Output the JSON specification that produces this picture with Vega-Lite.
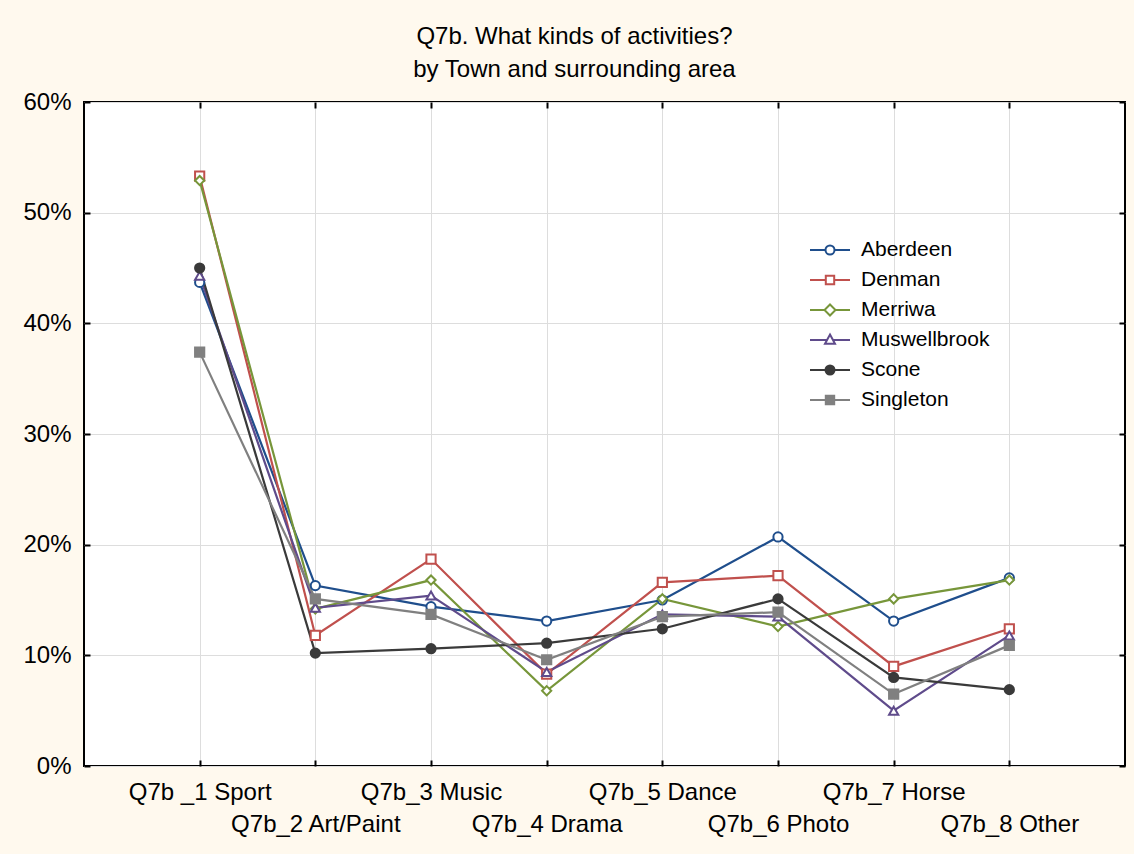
{
  "$schema": "https://vega.github.io/schema/vega-lite/v6.json",
  "width": 1041,
  "height": 664,
  "autosize": {"type": "none"},
  "padding": {"left": 84, "top": 102, "right": 9, "bottom": 88},
  "background": "#FFF9EE",
  "config": {
    "font": "Liberation Sans",
    "view": {"fill": "white", "stroke": "#000000", "strokeWidth": 2},
    "axis": {
      "domain": false,
      "tickColor": "#000000",
      "tickWidth": 2,
      "tickSize": 6,
      "offset": -6,
      "gridColor": "#DDDDDD",
      "gridWidth": 1,
      "labelColor": "#000000",
      "labelFont": "Liberation Sans",
      "labelFontSize": 24,
      "title": null
    }
  },
  "title": {
    "text": ["Q7b. What kinds of activities?", "by Town and surrounding area"],
    "fontSize": 24,
    "fontWeight": "normal",
    "lineHeight": 33,
    "frame": "bounds",
    "anchor": "middle",
    "offset": 8,
    "color": "#000000"
  },
  "data": {
    "values": [
      {"town": "Aberdeen", "item": "Q7b _1 Sport", "pct": 43.7},
      {"town": "Aberdeen", "item": "Q7b_2 Art/Paint", "pct": 16.3},
      {"town": "Aberdeen", "item": "Q7b_3 Music", "pct": 14.4},
      {"town": "Aberdeen", "item": "Q7b_4 Drama", "pct": 13.1},
      {"town": "Aberdeen", "item": "Q7b_5 Dance", "pct": 15.0},
      {"town": "Aberdeen", "item": "Q7b_6 Photo", "pct": 20.7},
      {"town": "Aberdeen", "item": "Q7b_7 Horse", "pct": 13.1},
      {"town": "Aberdeen", "item": "Q7b_8 Other", "pct": 17.0},
      {"town": "Denman", "item": "Q7b _1 Sport", "pct": 53.3},
      {"town": "Denman", "item": "Q7b_2 Art/Paint", "pct": 11.8},
      {"town": "Denman", "item": "Q7b_3 Music", "pct": 18.7},
      {"town": "Denman", "item": "Q7b_4 Drama", "pct": 8.3},
      {"town": "Denman", "item": "Q7b_5 Dance", "pct": 16.6},
      {"town": "Denman", "item": "Q7b_6 Photo", "pct": 17.2},
      {"town": "Denman", "item": "Q7b_7 Horse", "pct": 9.0},
      {"town": "Denman", "item": "Q7b_8 Other", "pct": 12.4},
      {"town": "Merriwa", "item": "Q7b _1 Sport", "pct": 52.9},
      {"town": "Merriwa", "item": "Q7b_2 Art/Paint", "pct": 14.2},
      {"town": "Merriwa", "item": "Q7b_3 Music", "pct": 16.8},
      {"town": "Merriwa", "item": "Q7b_4 Drama", "pct": 6.8},
      {"town": "Merriwa", "item": "Q7b_5 Dance", "pct": 15.1},
      {"town": "Merriwa", "item": "Q7b_6 Photo", "pct": 12.6},
      {"town": "Merriwa", "item": "Q7b_7 Horse", "pct": 15.1},
      {"town": "Merriwa", "item": "Q7b_8 Other", "pct": 16.8},
      {"town": "Muswellbrook", "item": "Q7b _1 Sport", "pct": 44.3},
      {"town": "Muswellbrook", "item": "Q7b_2 Art/Paint", "pct": 14.3},
      {"town": "Muswellbrook", "item": "Q7b_3 Music", "pct": 15.4},
      {"town": "Muswellbrook", "item": "Q7b_4 Drama", "pct": 8.5},
      {"town": "Muswellbrook", "item": "Q7b_5 Dance", "pct": 13.7},
      {"town": "Muswellbrook", "item": "Q7b_6 Photo", "pct": 13.5},
      {"town": "Muswellbrook", "item": "Q7b_7 Horse", "pct": 5.0},
      {"town": "Muswellbrook", "item": "Q7b_8 Other", "pct": 11.8},
      {"town": "Scone", "item": "Q7b _1 Sport", "pct": 45.0},
      {"town": "Scone", "item": "Q7b_2 Art/Paint", "pct": 10.2},
      {"town": "Scone", "item": "Q7b_3 Music", "pct": 10.6},
      {"town": "Scone", "item": "Q7b_4 Drama", "pct": 11.1},
      {"town": "Scone", "item": "Q7b_5 Dance", "pct": 12.4},
      {"town": "Scone", "item": "Q7b_6 Photo", "pct": 15.1},
      {"town": "Scone", "item": "Q7b_7 Horse", "pct": 8.0},
      {"town": "Scone", "item": "Q7b_8 Other", "pct": 6.9},
      {"town": "Singleton", "item": "Q7b _1 Sport", "pct": 37.4},
      {"town": "Singleton", "item": "Q7b_2 Art/Paint", "pct": 15.1},
      {"town": "Singleton", "item": "Q7b_3 Music", "pct": 13.7},
      {"town": "Singleton", "item": "Q7b_4 Drama", "pct": 9.6},
      {"town": "Singleton", "item": "Q7b_5 Dance", "pct": 13.5},
      {"town": "Singleton", "item": "Q7b_6 Photo", "pct": 13.9},
      {"town": "Singleton", "item": "Q7b_7 Horse", "pct": 6.5},
      {"town": "Singleton", "item": "Q7b_8 Other", "pct": 10.9}
    ]
  },
  "layer": [
    {
      "mark": {"type": "line", "strokeWidth": 2.2},
      "encoding": {
        "x": {
          "field": "item", "type": "nominal", "sort": null,
          "scale": {"type": "point", "padding": 1},
          "axis": {
            "orient": "bottom", "grid": true, "labelAngle": 0, "offset": -6, "tickSize": 6,
            "labelBaseline": "top", "labelPadding": 14, "labelLineHeight": 32,
            "labelExpr": "test(/_[2468] /, datum.value) ? ['', datum.value] : datum.value"
          }
        },
        "y": {
          "field": "pct", "type": "quantitative",
          "scale": {"domain": [0, 60], "nice": false},
          "axis": {
            "orient": "left", "grid": true, "values": [0, 10, 20, 30, 40, 50, 60],
            "offset": -6, "tickSize": 6,
            "labelPadding": 13, "labelExpr": "datum.value + '%'"
          }
        },
        "color": {
          "field": "town", "type": "nominal", "legend": null,
          "scale": {
            "domain": ["Aberdeen", "Denman", "Merriwa", "Muswellbrook", "Scone", "Singleton"],
            "range": ["#1F4E8C", "#C0504D", "#77963A", "#5F4B8B", "#3A3A3A", "#808080"]
          }
        }
      }
    },
    {
      "mark": {"type": "point", "filled": false, "strokeWidth": 2, "size": 85, "opacity": 1},
      "encoding": {
        "x": {
          "field": "item", "type": "nominal", "sort": null,
          "scale": {"type": "point", "padding": 1},
          "axis": {"orient": "top", "grid": false, "labels": false, "offset": -6, "tickSize": 6}
        },
        "y": {
          "field": "pct", "type": "quantitative",
          "scale": {"domain": [0, 60], "nice": false},
          "axis": {"orient": "right", "grid": false, "labels": false, "offset": -6, "tickSize": 6, "values": [0, 10, 20, 30, 40, 50, 60]}
        },
        "color": {
          "field": "town", "type": "nominal", "legend": null,
          "scale": {
            "domain": ["Aberdeen", "Denman", "Merriwa", "Muswellbrook", "Scone", "Singleton"],
            "range": ["#1F4E8C", "#C0504D", "#77963A", "#5F4B8B", "#3A3A3A", "#808080"]
          }
        },
        "fill": {
          "field": "town", "type": "nominal", "legend": null,
          "scale": {
            "domain": ["Aberdeen", "Denman", "Merriwa", "Muswellbrook", "Scone", "Singleton"],
            "range": ["#FFFFFF", "#FFFFFF", "#FFFFFF", "#FFFFFF", "#3A3A3A", "#808080"]
          }
        },
        "shape": {
          "field": "town", "type": "nominal", "legend": null,
          "scale": {
            "domain": ["Aberdeen", "Denman", "Merriwa", "Muswellbrook", "Scone", "Singleton"],
            "range": ["circle", "square", "diamond", "triangle-up", "circle", "square"]
          }
        }
      }
    },
    {
      "transform": [{"filter": "false"}],
      "mark": {"type": "point", "filled": false, "strokeWidth": 2, "opacity": 1},
      "encoding": {
        "x": {"field": "item", "type": "nominal", "sort": null, "scale": {"type": "point", "padding": 1}, "axis": null},
        "y": {"field": "pct", "type": "quantitative", "scale": {"domain": [0, 60], "nice": false}, "axis": null},
        "color": {
          "field": "town", "type": "nominal",
          "scale": {
            "domain": ["Aberdeen", "Denman", "Merriwa", "Muswellbrook", "Scone", "Singleton"],
            "range": ["#1F4E8C", "#C0504D", "#77963A", "#5F4B8B", "#3A3A3A", "#808080"]
          },
          "legend": {
            "orient": "none", "legendX": 735, "legendY": 137, "title": null,
            "labelFontSize": 21, "labelFont": "Liberation Sans", "labelColor": "#000000",
            "symbolSize": 400, "symbolStrokeWidth": 2, "symbolOpacity": 1, "labelOffset": 20, "rowPadding": 9,
            "padding": 0
          }
        },
        "fill": {
          "field": "town", "type": "nominal",
          "scale": {
            "domain": ["Aberdeen", "Denman", "Merriwa", "Muswellbrook", "Scone", "Singleton"],
            "range": ["#FFFFFF", "#FFFFFF", "#FFFFFF", "#FFFFFF", "#3A3A3A", "#808080"]
          },
          "legend": {
            "orient": "none", "legendX": 735, "legendY": 137, "title": null,
            "labelFontSize": 21, "labelFont": "Liberation Sans", "labelColor": "#000000",
            "symbolSize": 400, "symbolStrokeWidth": 2, "symbolOpacity": 1, "labelOffset": 20, "rowPadding": 9,
            "padding": 0
          }
        },
        "shape": {
          "field": "town", "type": "nominal",
          "scale": {
            "domain": ["Aberdeen", "Denman", "Merriwa", "Muswellbrook", "Scone", "Singleton"],
            "range": [
              "M-2,0H-0.45M0.45,0H2M0.45,0A0.45,0.45,0,1,1,-0.45,0A0.45,0.45,0,1,1,0.45,0Z",
              "M-2,0H-0.42M0.42,0H2M-0.42,-0.42H0.42V0.42H-0.42Z",
              "M-2,0H-0.55M0.55,0H2M0,-0.55L0.55,0L0,0.55L-0.55,0Z",
              "M-2,0H-0.3M0.3,0H2M0,-0.55L0.5,0.38L-0.5,0.38Z",
              "M-2,0H2M0.45,0A0.45,0.45,0,1,1,-0.45,0A0.45,0.45,0,1,1,0.45,0Z",
              "M-2,0H2M-0.42,-0.42H0.42V0.42H-0.42Z"
            ]
          },
          "legend": {
            "orient": "none", "legendX": 735, "legendY": 137, "title": null,
            "labelFontSize": 21, "labelFont": "Liberation Sans", "labelColor": "#000000",
            "symbolSize": 400, "symbolStrokeWidth": 2, "symbolOpacity": 1, "labelOffset": 20, "rowPadding": 9,
            "padding": 0
          }
        }
      }
    }
  ],
  "resolve": {
    "scale": {"shape": "independent", "color": "independent", "fill": "independent"},
    "axis": {"x": "independent", "y": "independent"}
  }
}
